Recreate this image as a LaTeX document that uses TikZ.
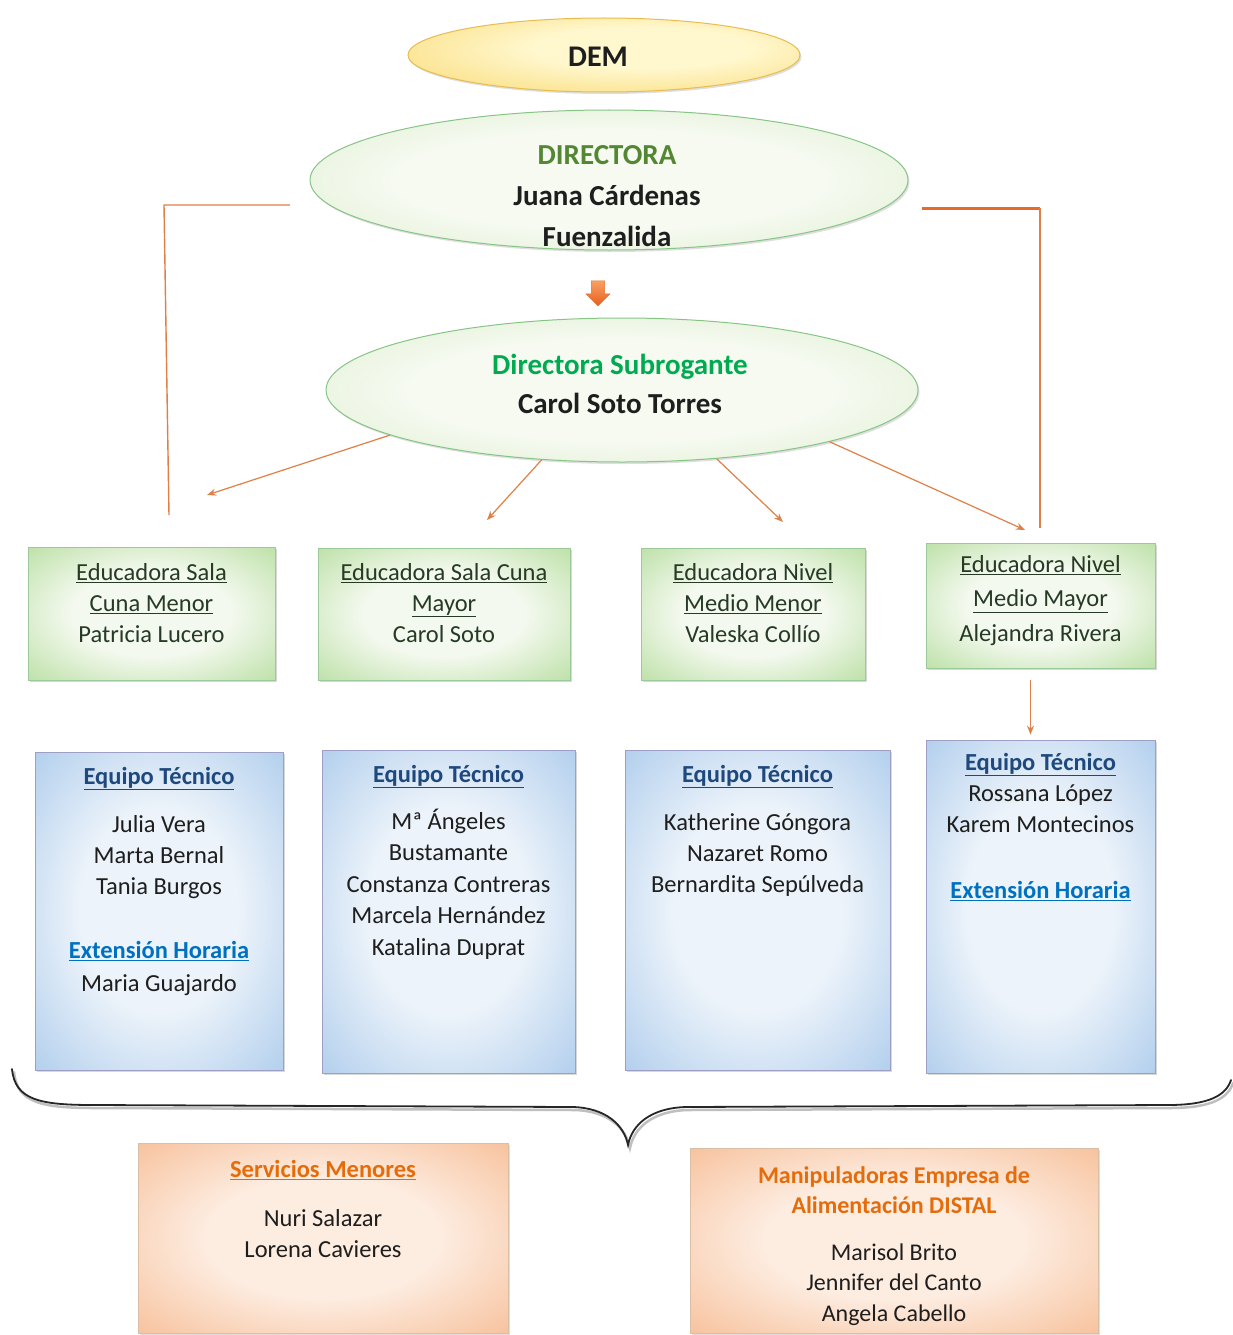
\documentclass[tikz,border=0pt]{standalone}
\usepackage{fontspec}
\setmainfont{Carlito}
\usetikzlibrary{shapes.geometric,shapes.arrows,shadows,arrows.meta,calc}
\definecolor{gIn}{RGB}{244,249,239}
\definecolor{gOut}{RGB}{160,212,130}
\definecolor{bIn}{RGB}{236,243,250}
\definecolor{bOut}{RGB}{148,188,230}
\definecolor{oIn}{RGB}{253,236,224}
\definecolor{oOut}{RGB}{244,172,122}
\definecolor{eIn}{RGB}{246,250,241}
\definecolor{eOut}{RGB}{204,229,182}
\definecolor{yIn}{RGB}{255,247,205}
\definecolor{yOut}{RGB}{248,213,100}
\definecolor{txt}{RGB}{30,30,30}
\definecolor{gtxt}{RGB}{38,58,38}
\definecolor{dirgreen}{RGB}{84,135,52}
\definecolor{subgreen}{RGB}{0,170,80}
\definecolor{eqblue}{RGB}{31,73,125}
\definecolor{exblue}{RGB}{0,112,192}
\definecolor{orhead}{RGB}{228,108,10}
\definecolor{lineor}{RGB}{222,128,72}
\definecolor{lineor2}{RGB}{232,105,40}
\pgfdeclareradialshading{gshade}{\pgfpoint{0bp}{0bp}}{color(0bp)=(gIn);color(16bp)=(gIn);color(46bp)=(gOut);color(72bp)=(gOut)}
\pgfdeclareradialshading{bshade}{\pgfpoint{0bp}{0bp}}{color(0bp)=(bIn);color(16bp)=(bIn);color(46bp)=(bOut);color(72bp)=(bOut)}
\pgfdeclareradialshading{oshade}{\pgfpoint{0bp}{0bp}}{color(0bp)=(oIn);color(16bp)=(oIn);color(46bp)=(oOut);color(72bp)=(oOut)}
\pgfdeclareradialshading{eshade}{\pgfpoint{0bp}{0bp}}{color(0bp)=(eIn);color(18bp)=(eIn);color(48bp)=(eOut);color(72bp)=(eOut)}
\pgfdeclareradialshading{yshade}{\pgfpoint{6bp}{6bp}}{color(0bp)=(yIn);color(14bp)=(yIn);color(44bp)=(yOut);color(72bp)=(yOut)}
\newcommand\fstrut{\rule{0pt}{22pt}}
\newcommand\bstrut{\rule{0pt}{26pt}}
\begin{document}
\begin{tikzpicture}[x=1pt,y=-1pt,
  every node/.style={inner sep=0pt},
  ell/.style={ellipse,draw=green!35!gray!70,line width=1pt,shading=eshade,
     drop shadow={shadow xshift=1.5pt,shadow yshift=-2pt,opacity=0.25}},
  gbox/.style={rectangle,draw=green!30!gray!60,line width=0.8pt,shading=gshade,
     drop shadow={shadow xshift=2pt,shadow yshift=-2pt,opacity=0.3}},
  bbox/.style={rectangle,draw=blue!25!gray!60,line width=0.8pt,shading=bshade,
     drop shadow={shadow xshift=2pt,shadow yshift=-2pt,opacity=0.3}},
  obox/.style={rectangle,draw=orange!40!gray!50,line width=0.8pt,shading=oshade,
     drop shadow={shadow xshift=2pt,shadow yshift=-2pt,opacity=0.25}},
  tbox/.style={anchor=north,yshift=22pt,align=center,text=txt,
     font=\fontsize{24.5}{31}\selectfont},
  tell/.style={anchor=north,yshift=26pt,align=center,text=txt,
     font=\fontsize{29}{41}\bfseries\selectfont},
  arr/.style={draw=lineor,line width=1.2pt,-{Stealth[length=9pt,width=7pt]}},
]
\useasboundingbox[fill=white] (0,0) rectangle (1233,1335);

% ---- ellipses ----
\node[ellipse,draw={rgb,255:red,232;green,188;blue,80},line width=1pt,shading=yshade,
   minimum width=392,minimum height=74,
   drop shadow={shadow xshift=1.5pt,shadow yshift=-2pt,opacity=0.25}] (dem) at (604,55) {};
\node[tell,font=\fontsize{30}{36}\bfseries\selectfont] (demt) at (598,66) {\bstrut DEM};

\node[ell,minimum width=598,minimum height=140] (dir) at (609,180) {};
\node[tell] (dirt) at (607,164) {\bstrut\textcolor{dirgreen}{DIRECTORA}\\Juana Cárdenas\\Fuenzalida};

\node[single arrow,rotate=-90,minimum height=25pt,minimum width=24pt,
   single arrow head extend=5pt,inner sep=6pt,
   top color={rgb,255:red,250;green,160;blue,100},bottom color={rgb,255:red,230;green,95;blue,30},
   draw={rgb,255:red,230;green,110;blue,50},line width=0.5pt] (barr) at (598,290) {};

\node[ell,minimum width=592,minimum height=144] (sub) at (622,390) {};
\node[tell,font=\fontsize{29}{39}\bfseries\selectfont] (subt) at (620,374)
   {\bstrut\textcolor{subgreen}{Directora Subrogante}\\Carol Soto Torres};

% ---- green boxes ----
\node[gbox,minimum width=247,minimum height=133] (g1) at (151.5,613.5) {};
\node[gbox,minimum width=252,minimum height=132] (g2) at (444,614) {};
\node[gbox,minimum width=224,minimum height=132] (g3) at (753,614) {};
\node[gbox,minimum width=229,minimum height=125] (g4) at (1040.5,605.5) {};

\node[tbox,text=gtxt] (g1t) at (151.5,580) {\fstrut\underline{Educadora Sala}\\\underline{Cuna Menor}\\Patricia Lucero};
\node[tbox,text=gtxt] (g2t) at (444,580) {\fstrut\underline{Educadora Sala Cuna}\\\underline{Mayor}\\Carol Soto};
\node[tbox,text=gtxt] (g3t) at (753,580) {\fstrut\underline{Educadora Nivel}\\\underline{Medio Menor}\\Valeska Collío};
\node[tbox,text=gtxt,font=\fontsize{24.5}{34.5}\selectfont] (g4t) at (1040.5,572) {\fstrut\underline{Educadora Nivel}\\\underline{Medio Mayor}\\Alejandra Rivera};

% ---- blue boxes ----
\node[bbox,minimum width=248,minimum height=318] (b1) at (159,911) {};
\node[bbox,minimum width=253,minimum height=323] (b2) at (448.5,911.5) {};
\node[bbox,minimum width=265,minimum height=320] (b3) at (757.5,910) {};
\node[bbox,minimum width=229,minimum height=333] (b4) at (1040.5,906.5) {};

\node[tbox] (b1t) at (159,784) {\fstrut\textcolor{eqblue}{\bfseries\underline{Equipo Técnico}}\\[17pt]
  Julia Vera\\Marta Bernal\\Tania Burgos\\[33pt]
  \textcolor{exblue}{\bfseries\underline{Extensión Horaria}}\\[2pt]Maria Guajardo};
\node[tbox,font=\fontsize{24.5}{31.5}\selectfont] (b2t) at (448.5,782) {\fstrut\textcolor{eqblue}{\bfseries\underline{Equipo Técnico}}\\[15.5pt]
  Mª Ángeles\\Bustamante\\Constanza Contreras\\Marcela Hernández\\Katalina Duprat};
\node[tbox,font=\fontsize{24.5}{31}\selectfont] (b3t) at (757.5,782) {\fstrut\textcolor{eqblue}{\bfseries\underline{Equipo Técnico}}\\[17pt]
  Katherine Góngora\\Nazaret Romo\\Bernardita Sepúlveda};
\node[tbox] (b4t) at (1040.5,770) {\fstrut\textcolor{eqblue}{\bfseries\underline{Equipo Técnico}}\\
  Rossana López\\Karem Montecinos\\[35pt]
  \textcolor{exblue}{\bfseries\underline{Extensión Horaria}}};

% ---- brace ----
\draw[gray!50,line width=2.5pt,line cap=round] (14,1072) .. controls (17,1103) and (42,1108) .. (95,1108)
   -- (575,1110) .. controls (608,1111) and (626,1128) .. (630,1148)
   .. controls (634,1128) and (652,1111) .. (688,1110)
   -- (1170,1108) .. controls (1212,1108) and (1228,1098) .. (1233,1083);
\draw[black!85,line width=1.8pt,line cap=round] (12,1069) .. controls (15,1100) and (40,1105) .. (93,1105)
   -- (573,1107) .. controls (606,1108) and (624,1125) .. (628,1145)
   .. controls (632,1125) and (650,1108) .. (686,1107)
   -- (1168,1105) .. controls (1210,1105) and (1226,1095) .. (1231,1080);

% ---- orange boxes ----
\node[obox,minimum width=370,minimum height=190] (o1) at (323,1238) {};
\node[obox,minimum width=408,minimum height=185] (o2) at (894,1240.5) {};
\node[tbox] (o1t) at (323,1177) {\fstrut\textcolor{orhead}{\bfseries\underline{Servicios Menores}}\\[18pt]
  Nuri Salazar\\Lorena Cavieres};
\node[tbox,font=\fontsize{24}{30.5}\selectfont] (o2t) at (894,1183) {\fstrut\textcolor{orhead}{\bfseries Manipuladoras Empresa de}\\
  \textcolor{orhead}{\bfseries Alimentación DISTAL}\\[16pt]
  Marisol Brito\\Jennifer del Canto\\Angela Cabello};

% ---- connectors ----
\coordinate (a1) at (207,495);
\coordinate (a2) at (487,520);
\coordinate (a3) at (783,522);
\coordinate (a4) at (1025,530);
\draw[arr] (sub.191) -- (a1);
\draw[arr] (sub.221) -- (a2);
\draw[arr] (sub.324) -- (a3);
\draw[arr] (sub.346.5) -- (a4);

\coordinate (ls) at (290,205);
\coordinate (lc) at (164,205);
\coordinate (le) at (169,515);
\draw[draw=lineor,line width=1.4pt] (ls) -- (lc) -- (le);
\coordinate (rs) at (922,208);
\coordinate (rc) at (1040,208);
\coordinate (re) at (1040,528);
\draw[draw=lineor2,line width=3pt] (rs) -- (rc);
\draw[draw=lineor,line width=1.4pt] (rc) -- (re);

\draw[arr] ([xshift=-10pt,yshift=-12pt]g4.south) -- ([xshift=-10pt,yshift=5pt]b4.north);
\end{tikzpicture}
\end{document}
